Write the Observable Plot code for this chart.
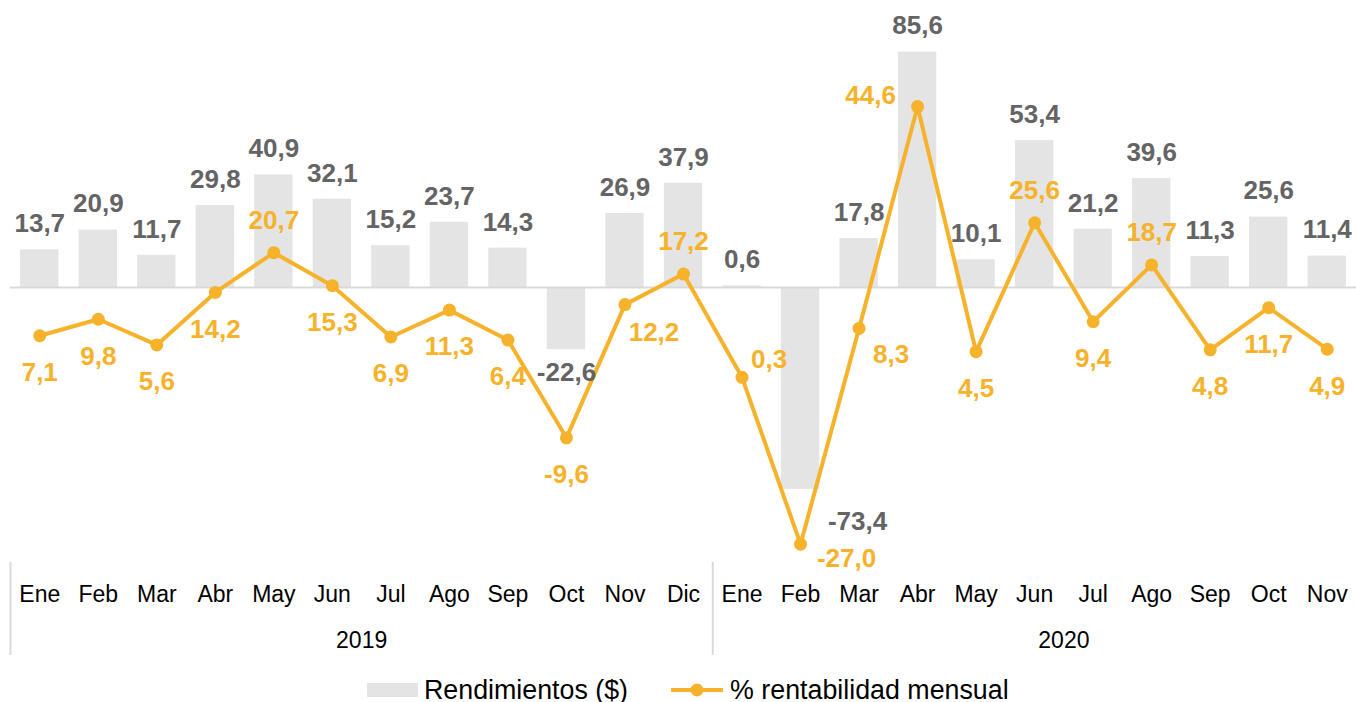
<!DOCTYPE html>
<html>
<head>
<meta charset="utf-8">
<script src="https://cdn.jsdelivr.net/npm/d3@7"></script>
<script src="https://cdn.jsdelivr.net/npm/@observablehq/plot@0.6"></script>
<style>
  html, body { margin: 0; padding: 0; background: #fff; }
  body { width: 1356px; height: 702px; position: relative; overflow: hidden; font-family: "Liberation Sans", Arial, sans-serif; }
  #chart svg, #axis svg { display: block; }
  #legend { position: absolute; left: 367px; top: 674px; height: 32px; display: flex; align-items: center; font-size: 26.8px; color: #000; white-space: nowrap; }
  #legend .sw { display: inline-block; }
</style>
</head>
<body>
<div id="chart"></div>
<div id="axis"></div>
<div id="legend"></div>
<script>
// ---- data ----
const months = ["Ene","Feb","Mar","Abr","May","Jun","Jul","Ago","Sep","Oct","Nov","Dic",
                "Ene","Feb","Mar","Abr","May","Jun","Jul","Ago","Sep","Oct","Nov"];
const years = [2019,2019,2019,2019,2019,2019,2019,2019,2019,2019,2019,2019,
               2020,2020,2020,2020,2020,2020,2020,2020,2020,2020,2020];
const rendimientos = [13.7,20.9,11.7,29.8,40.9,32.1,15.2,23.7,14.3,-22.6,26.9,37.9,
                      0.6,-73.4,17.8,85.6,10.1,53.4,21.2,39.6,11.3,25.6,11.4];
const rentabilidad = [7.1,9.8,5.6,14.2,20.7,15.3,6.9,11.3,6.4,-9.6,12.2,17.2,
                      0.3,-27.0,8.3,44.6,4.5,25.6,9.4,18.7,4.8,11.7,4.9];
const seriesNames = ["Rendimientos ($)", "% rentabilidad mensual"];
const barAxisDomain = [-100, 100];   // primary axis
const pctAxisDomain = [-30, 60];     // secondary axis
const monthsPerYear = 12;

// ---- styles ----
const ORANGE = "#f6b22a";
const BARFILL = "#e4e4e4";
const BARTEXT = "#646464";
const AXISGRAY = "#d9d9d9";
const FONT = "Liberation Sans, Arial, sans-serif";
const GAP = 0.1725; // fraction of a category slot left empty on each side of a bar
// label placement tweaks (index -> [dx, dy])
const lineAbove = new Set([4, 11, 17, 19]);
const lineCustom = {10: [29, 28], 12: [27, -18], 13: [46, 15], 14: [32, 26], 15: [-47, -11]};
const barCustom = {13: [57, 32]};

const n = months.length;
const rows = months.map((m, i) => ({i, m, year: years[i], bar: rendimientos[i], pct: rentabilidad[i]}));
const toBar = d3.scaleLinear().domain(pctAxisDomain).range(barAxisDomain);
const fmt = v => v.toFixed(1).replace(".", ",");

const cx = d => d.i + 0.5;
const lineY = d => toBar(d.pct);

const marks = [
  Plot.rectY(rows, {x1: d => d.i + GAP, x2: d => d.i + 1 - GAP, y1: 0, y2: "bar", fill: BARFILL}),
  Plot.ruleY([0], {stroke: AXISGRAY, strokeWidth: 2}),
  Plot.line(rows, {x: cx, y: lineY, stroke: ORANGE, strokeWidth: 4, strokeLinejoin: "round", curve: "linear"}),
  Plot.dot(rows, {x: cx, y: lineY, r: 6.5, fill: ORANGE, stroke: "none"}),
];

// bar labels
const barCommon = {x: cx, y: "bar", text: d => fmt(d.bar), fill: BARTEXT, fontSize: 26, fontWeight: "bold", lineAnchor: "middle"};
marks.push(Plot.text(rows.filter(d => !(d.i in barCustom) && d.bar >= 0), {...barCommon, dy: -26}));
marks.push(Plot.text(rows.filter(d => !(d.i in barCustom) && d.bar < 0), {...barCommon, dy: 23}));
for (const [k, [dx, dy]] of Object.entries(barCustom)) {
  marks.push(Plot.text(rows.filter(d => d.i === +k), {...barCommon, dx, dy}));
}
// line labels
const lineCommon = {x: cx, y: lineY, text: d => fmt(d.pct), fill: ORANGE, fontSize: 26, fontWeight: "bold", lineAnchor: "middle"};
marks.push(Plot.text(rows.filter(d => !(d.i in lineCustom) && !lineAbove.has(d.i)), {...lineCommon, dy: 37}));
marks.push(Plot.text(rows.filter(d => lineAbove.has(d.i)), {...lineCommon, dy: -32}));
for (const [k, [dx, dy]] of Object.entries(lineCustom)) {
  marks.push(Plot.text(rows.filter(d => d.i === +k), {...lineCommon, dx, dy}));
}

const chart = Plot.plot({
  width: 1356, height: 562,
  marginTop: 12, marginBottom: 0, marginLeft: 10, marginRight: 0,
  style: {fontFamily: FONT, background: "transparent", overflow: "visible"},
  x: {domain: [0, n], axis: null},
  y: {domain: barAxisDomain, axis: null},
  marks
});
document.getElementById("chart").append(chart);

// category axis (months + years)
const yearGroups = Array.from(d3.group(rows, d => d.year), ([year, arr]) => ({year, start: arr[0].i}));
const axis = Plot.plot({
  width: 1356, height: 93,
  marginTop: 0, marginBottom: 0, marginLeft: 10, marginRight: 0,
  style: {fontFamily: FONT, background: "transparent", overflow: "visible"},
  x: {domain: [0, n], axis: null},
  y: {axis: null},
  marks: [
    Plot.ruleX(yearGroups, {x: "start", stroke: AXISGRAY, strokeWidth: 2}),
    Plot.text(rows, {x: cx, frameAnchor: "top", lineAnchor: "middle", dy: 32, text: "m", fontSize: 23, fill: "#000"}),
    Plot.text(yearGroups, {x: d => d.start + monthsPerYear / 2, frameAnchor: "top", lineAnchor: "middle", dy: 78, text: d => String(d.year), fontSize: 23, fill: "#000"})
  ]
});
document.getElementById("axis").append(axis);

// legend
const legend = document.getElementById("legend");
legend.innerHTML = `
  <svg class="sw" width="51" height="14"><rect x="0" y="0" width="51" height="14" fill="${BARFILL}"/></svg>
  <span style="margin-left:6px">${seriesNames[0]}</span>
  <svg class="sw" width="52" height="16" style="margin-left:43px"><line x1="1" x2="51" y1="8" y2="8" stroke="${ORANGE}" stroke-width="4" stroke-linecap="round"/><circle cx="26" cy="8" r="6.5" fill="${ORANGE}"/></svg>
  <span style="margin-left:7px">${seriesNames[1]}</span>`;
</script>
</body>
</html>
